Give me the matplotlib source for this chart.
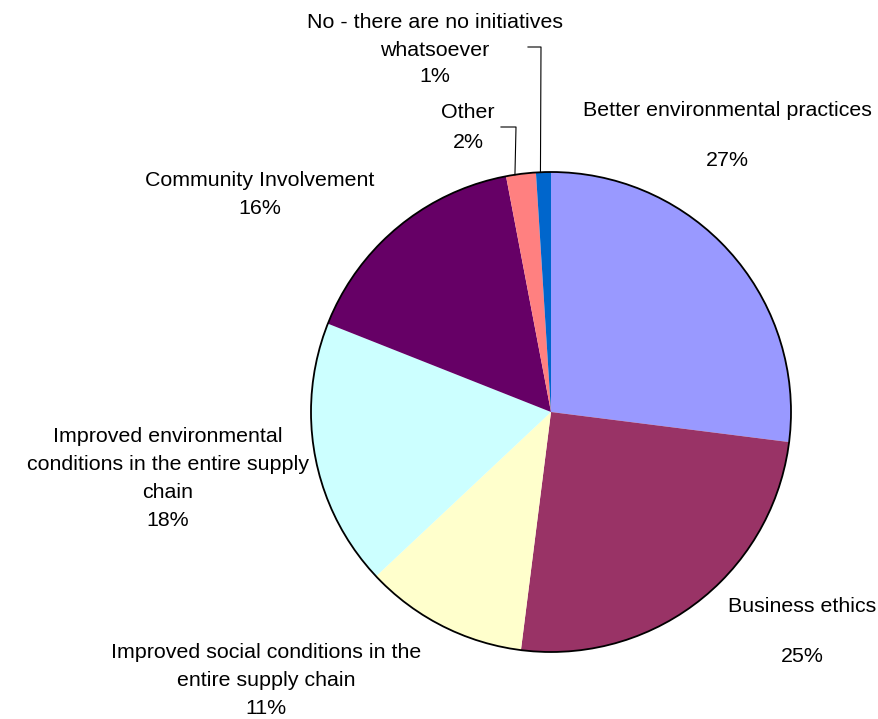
import numpy as np
import matplotlib.pyplot as plt

plt.rcParams['font.family'] = ['Liberation Sans', 'DejaVu Sans']

# ------------------------------------------------------------------ #
#  Data                                                               #
# ------------------------------------------------------------------ #
categories = [
    "Better environmental practices",
    "Business ethics",
    "Improved social conditions in the\nentire supply chain",
    "Improved environmental\nconditions in the entire supply\nchain",
    "Community Involvement",
    "Other",
    "No - there are no initiatives\nwhatsoever",
]
shares = [27, 25, 11, 18, 16, 2, 1]
colors = ["#9999FF", "#993366", "#FFFFCC", "#CCFFFF", "#660066", "#FF8080", "#0066CC"]

W, H = 879, 719
CX, CY, R = 551, 412, 240
FS = 15.4

# label block (center x, first-line y) and percent y, in pixel coords
label_pos = [
    (727, 111, 160),
    (802, 607, 657),
    (266, 652, 709),
    (168, 437, 521),
    (260, 181, 209),
    (468, 113, 142),
    (435, 22, 76),
]
LINE = 28

fig = plt.figure(figsize=(W / 100, H / 100), dpi=100)
ax = fig.add_axes([0, 0, 1, 1])

wedges, _ = ax.pie(shares, colors=colors, startangle=90, counterclock=False,
                   center=(CX, H - CY), radius=R, frame=True,
                   wedgeprops=dict(linewidth=0))
ax.set_xlim(0, W)
ax.set_ylim(0, H)
ax.set_aspect("equal")
ax.axis("off")
ax.add_patch(plt.Circle((CX, H - CY), R, fill=False, edgecolor="black", linewidth=1.3))

for name, val, (lx, ly, py) in zip(categories, shares, label_pos):
    for k, line in enumerate(name.split("\n")):
        ax.text(lx, H - (ly + k * LINE), line, ha="center", va="center", fontsize=FS)
    ax.text(lx, H - py, f"{val}%", ha="center", va="center", fontsize=FS)

# leader lines for the two thin slices: (wedge, x at top, y of elbow, x end)
for w, xt, yt, xe in [(wedges[5], 516, 127, 501), (wedges[6], 541, 47, 528)]:
    mid = np.deg2rad(0.3 * w.theta1 + 0.7 * w.theta2)
    x0 = CX + R * np.cos(mid)
    y0 = (H - CY) + R * np.sin(mid)
    ax.plot([x0, xt, xe], [y0, H - yt, H - yt], color="black", linewidth=0.8)

fig.savefig("out.png", dpi=100, facecolor="white")
